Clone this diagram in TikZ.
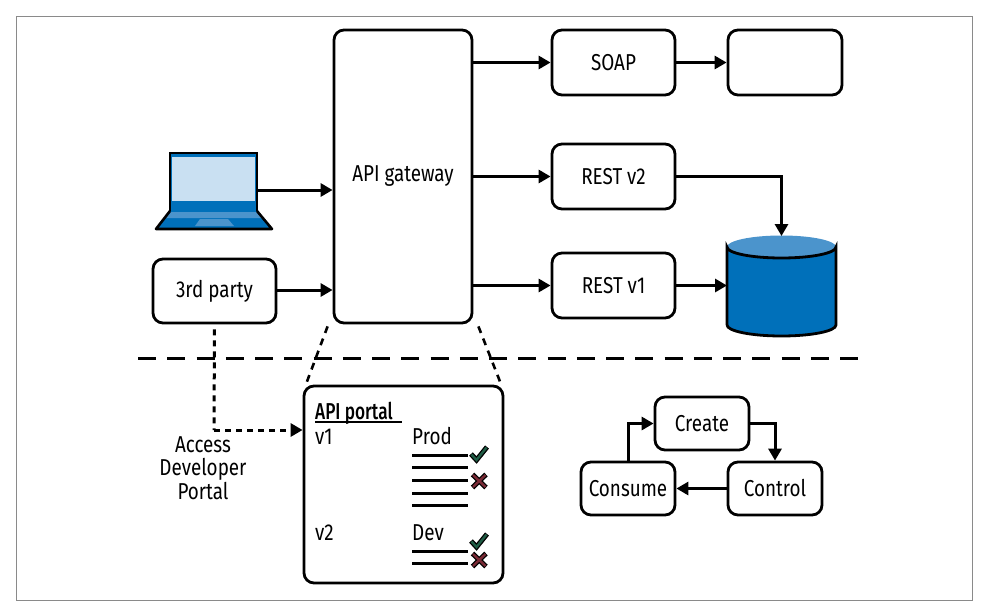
\documentclass[tikz,border=0pt]{standalone}
\usepackage{fontspec}
\setmainfont[FakeStretch=0.82]{Fira Sans}
\usetikzlibrary{arrows.meta,calc}
\definecolor{bodyblue}{HTML}{0070BA}
\definecolor{midblue}{HTML}{4B94CC}
\definecolor{paleblue}{HTML}{C9E0F2}
\definecolor{frame}{HTML}{8A8A8A}
\definecolor{okgreen}{HTML}{1F5C45}
\definecolor{badred}{HTML}{7A2A35}
\tikzset{
  box/.style={draw=black,line width=2.8pt,rounded corners=10pt,fill=white,inner sep=0pt,font=\fontsize{23}{28}\selectfont},
  ghost/.style={inner sep=0pt,outer sep=0pt},
  flow/.style={line width=3pt,-{Triangle[length=12pt,width=13pt]}},
  dotflow/.style={line width=3pt,dash pattern=on 6pt off 5pt,-{Triangle[length=12pt,width=13pt]}},
  dotline/.style={line width=3pt,dash pattern=on 6pt off 5pt},
  txt/.style={inner sep=0pt,anchor=base west,font=\fontsize{23}{28}\selectfont},
  rule/.style={line width=3pt},
  mark outline/.style={line width=5pt,draw=black},
}
\begin{document}
\begin{tikzpicture}[x=1pt,y=-1pt]
\useasboundingbox (0,0) rectangle (987,608);
\draw[frame,line width=1pt] (16,16) rectangle (972,600);

% boxes
\node[box,minimum width=138pt,minimum height=293pt] (gw) at (403,176.5) {API gateway};
\node[box,minimum width=123pt,minimum height=65pt] (soap) at (613.5,62.5) {SOAP};
\node[box,minimum width=114pt,minimum height=65pt] (blank) at (785,62.5) {};
\node[box,minimum width=123pt,minimum height=65pt] (restb) at (613.5,176.5) {REST v2};
\node[box,minimum width=123pt,minimum height=65pt] (resta) at (613.5,285.5) {REST v1};
\node[box,minimum width=123pt,minimum height=64pt] (third) at (214.5,291) {3rd party};
\node[box,minimum width=199pt,minimum height=197pt] (portal) at (403.5,484.5) {};
\node[box,minimum width=94pt,minimum height=53pt] (create) at (702,423.5) {Create};
\node[box,minimum width=94pt,minimum height=53pt] (control) at (775,488.5) {Control};
\node[box,minimum width=94pt,minimum height=53pt] (consume) at (628,488.5) {Consume};

% laptop
\node[ghost,minimum width=87pt,minimum height=76pt] (laptop) at (213.5,191) {};
\fill[bodyblue] (170,211) -- (257,211) -- (272,229) -- (156,229) -- cycle;
\fill[midblue] (170,212) -- (257,212) -- (262,218) -- (165,218) -- cycle;
\fill[midblue] (200,219) -- (228,219) -- (234,226) -- (195,226) -- cycle;
\draw[black,line width=2.6pt,line join=round] (170,211) -- (156,229) -- (272,229) -- (257,211);
\fill[bodyblue] (170,153) rectangle (257,211);
\fill[paleblue] (172,157) rectangle (255,201);
\draw[black,line width=2.8pt] (170,211) -- (170,153) -- (257,153) -- (257,211);

% database
\node[ghost,minimum width=109pt,minimum height=100pt] (db) at (781.5,286) {};
\fill[bodyblue] (727,247) -- (727,325) arc[start angle=180,end angle=360,x radius=54.5,y radius=-11] -- (836,247) -- cycle;
\fill[midblue] (781.5,247) ellipse[x radius=54.5,y radius=11.5];
\draw[black,line width=2.8pt] (727,325) -- (727,247) arc[start angle=180,delta angle=-180,x radius=54.5,y radius=11] -- (836,325) arc[start angle=0,delta angle=-180,x radius=54.5,y radius=-11];

% connectors
\draw[flow] (laptop.east |- 0,190) -- (gw.west |- 0,190);
\draw[flow] (third.east |- 0,290) -- (gw.west |- 0,290);
\draw[flow] (gw.east |- soap.west) -- (soap.west);
\draw[flow] (gw.east |- restb.west) -- (restb.west);
\draw[flow] (gw.east |- resta.west) -- (resta.west);
\draw[flow] (soap.east) -- (blank.west);
\draw[flow] (restb.east) -| (db.north);
\draw[flow] (resta.east) -- (db.west |- resta.east);
\draw[flow] (create.east) -| (control.north);
\draw[flow] (control.west) -- (consume.east);
\draw[flow] (consume.north) |- (create.west);

% section divider and zoom lines
\coordinate (divl) at (138,358);
\coordinate (divr) at (858,358);
\draw[line width=3pt,dash pattern=on 18pt off 11.25pt] (divl) -- (divr);
\draw[line width=2.6pt,dash pattern=on 7pt off 6pt] (gw.south west) ++(-5,2) -- ($(portal.north west)+(4,-2)$);
\draw[line width=2.6pt,dash pattern=on 7pt off 6pt] (gw.south east) ++(5,2) -- ($(portal.north east)+(-4,-2)$);

% developer portal access
\coordinate (bend) at (214,430);
\draw[dotline,shorten <=5pt] (third.south) -- (bend);
\draw[dotflow] (bend) -- (portal.west |- bend);
\node[ghost,align=center,font=\fontsize{23}{23.5}\selectfont] (access) at (203,468) {Access\\Developer\\Portal};

% portal contents
\node[txt] (pt) at (315,419.5) {\fontspec[FakeStretch=0.75]{Fira Sans Medium}API portal};
\draw[line width=2pt] (315,421.5) -- (402,421.5);
\node[txt] (v1) at (315,444) {v1};
\node[txt] (prod) at (412,444) {Prod};
\node[txt] (v2) at (315,540) {v2};
\node[txt] (dev) at (412,540) {Dev};
\foreach \y in {455,467.5,480,493,505.5,551,563.5}
  \draw[rule] (412,\y) -- (468,\y);
% check and cross marks
\foreach \dy in {0,87}{
  \draw[mark outline] (471,{454+\dy}) -- (476.5,{460+\dy}) -- (487,{447+\dy});
  \draw[okgreen,line width=2.4pt] (471.5,{454.5+\dy}) -- (476.5,{460+\dy}) -- (486.5,{447.5+\dy});
}
\foreach \cy in {481,560}{
  \draw[mark outline] (472.5,{\cy-6.5}) -- (486,{\cy+6.5}) (486,{\cy-6.5}) -- (472.5,{\cy+6.5});
  \draw[badred,line width=2.4pt] (473,{\cy-6}) -- (485.5,{\cy+6}) (485.5,{\cy-6}) -- (473,{\cy+6});
}
\end{tikzpicture}
\end{document}
